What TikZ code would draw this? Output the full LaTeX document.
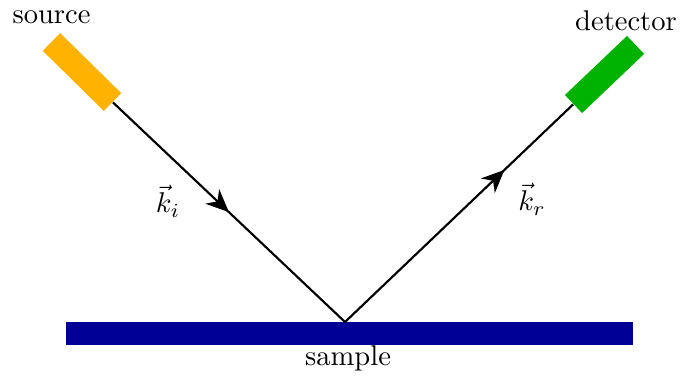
\documentclass[tikz,border=0pt]{standalone}
\usetikzlibrary{arrows.meta,decorations.markings}
\definecolor{srcorange}{RGB}{255,178,0}
\definecolor{detgreen}{RGB}{0,178,0}
\definecolor{smpblue}{RGB}{0,0,150}
\tikzset{
  device/.style={fill=#1, draw=none, inner sep=0pt, minimum width=30pt, minimum height=8.7pt},
  beam/.style={line width=0.75pt, postaction={decorate}},
  midarrow/.style={decoration={markings, mark=at position #1 with {\arrow{Stealth[length=8pt,width=7pt,inset=2.5pt]}}}},
  lbl/.style={inner sep=0pt, anchor=base}
}
\begin{document}
\begin{tikzpicture}[x=0.35pt, y=-0.35pt]
\useasboundingbox (0,0) rectangle (680,376);
\node[device=srcorange, rotate=-44.5] (source) at (82,72) {};
\node[device=detgreen, rotate=43.6] (detector) at (604.5,74.5) {};
\node[fill=smpblue, draw=none, inner sep=0pt, minimum width=198.5pt, minimum height=7.9pt] (sample) at (349.5,333.3) {};
\coordinate (apex) at (345,322);
\draw[beam, midarrow=0.5] (source.east) -- (apex);
\draw[beam, midarrow=0.7] (apex) -- (detector.west);
\node[lbl] (srclbl) at (51.5,24) {source};
\node[lbl] (detlbl) at (626,31) {detector};
\node[lbl] (smplbl) at (348,365.7) {sample};
\node (ki) at (168,201) {$\vec{k}_i$};
\node (kr) at (532,199) {$\vec{k}_r$};
\end{tikzpicture}
\end{document}
